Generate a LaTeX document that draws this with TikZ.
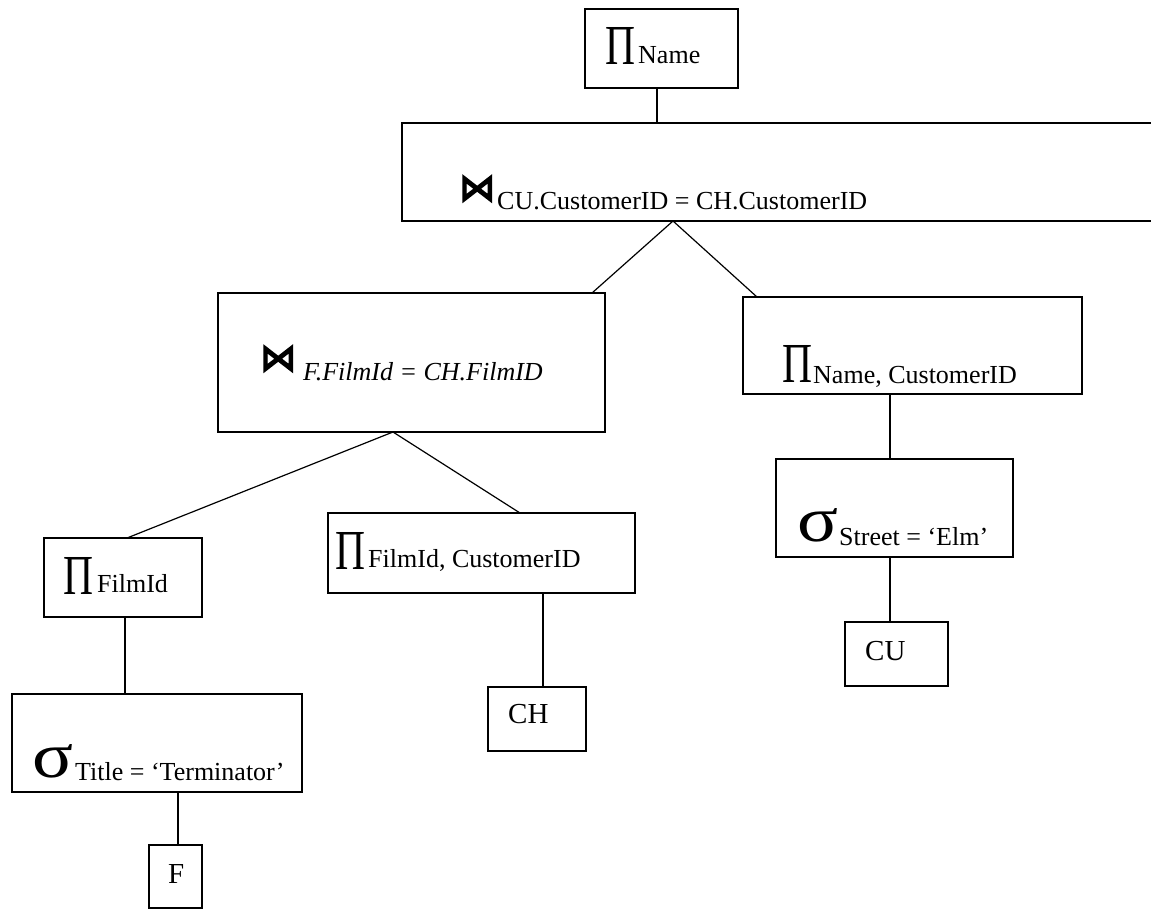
\documentclass[tikz,border=0pt]{standalone}
\usepackage{fontspec}
\setmainfont{Liberation Serif}
\newfontfamily\djv[FakeBold=4]{DejaVu Sans}
\usetikzlibrary{fit}
\tikzset{
  box/.style={draw, line width=1.2pt, inner sep=0pt, outer sep=0pt},
  lbl/.style={anchor=base west, inner sep=0pt, font=\fontsize{26}{30}\selectfont},
  rel/.style={anchor=base west, inner sep=0pt, font=\fontsize{29}{33}\selectfont},
  big/.style={anchor=south west, inner sep=0pt},
  conn/.style={line width=1.2pt},
}
\newcommand\PiSym{\resizebox{30pt}{37pt}{Π}}
\newcommand\SigSym{\resizebox{41pt}{33pt}{σ}}
\newcommand\JoinSym{\resizebox{36pt}{25pt}{\djv ⋈}}
\begin{document}
\begin{tikzpicture}[x=1pt,y=-1pt]
\path[use as bounding box] (0,0) rectangle (1151,910);
% boxes
\coordinate (a1) at (585,9);   \coordinate (c1) at (738,88);
\coordinate (a2) at (402,123); \coordinate (c2) at (1153,221);
\coordinate (a3) at (218,293); \coordinate (c3) at (605,432);
\coordinate (a4) at (743,297); \coordinate (c4) at (1082,394);
\coordinate (a5) at (44,538);  \coordinate (c5) at (202,617);
\coordinate (a6) at (328,513); \coordinate (c6) at (635,593);
\coordinate (a7) at (776,459); \coordinate (c7) at (1013,557);
\coordinate (a8) at (845,622); \coordinate (c8) at (948,686);
\coordinate (a9) at (488,687); \coordinate (c9) at (586,751);
\coordinate (a10) at (12,694); \coordinate (c10) at (302,792);
\coordinate (a11) at (149,845);\coordinate (c11) at (202,908);
\node[box, fit=(a1)(c1)] (b1) {};
\node[box, fit=(a2)(c2)] (b2) {};
\node[box, fit=(a3)(c3)] (b3) {};
\node[box, fit=(a4)(c4)] (b4) {};
\node[box, fit=(a5)(c5)] (b5) {};
\node[box, fit=(a6)(c6)] (b6) {};
\node[box, fit=(a7)(c7)] (b7) {};
\node[box, fit=(a8)(c8)] (b8) {};
\node[box, fit=(a9)(c9)] (b9) {};
\node[box, fit=(a10)(c10)] (b10) {};
\node[box, fit=(a11)(c11)] (b11) {};
% labels
\node[big] (p1) at (605,65) {\PiSym};
\node[lbl] (t1) at (638,63) {Name};
\node[big] (j2) at (459,202) {\JoinSym};
\node[lbl] (t2) at (497,209) {CU.CustomerID = CH.CustomerID};
\node[big] (j3) at (260,372) {\JoinSym};
\node[lbl] (t3) at (303,380) {\itshape F.FilmId = CH.FilmID};
\node[big] (p4) at (782,383) {\PiSym};
\node[lbl] (t4) at (813,383) {Name, CustomerID};
\node[big] (p5) at (63,595) {\PiSym};
\node[lbl] (t5) at (97,592) {FilmId};
\node[big] (p6) at (335,570) {\PiSym};
\node[lbl] (t6) at (368,567) {FilmId, CustomerID};
\node[big] (s7) at (797,542) {\SigSym};
\node[lbl] (t7) at (839,545) {Street = ‘Elm’};
\node[rel] (t8) at (865,660) {CU};
\node[rel] (t9) at (508,723) {CH};
\node[big] (s10) at (32,778) {\SigSym};
\node[lbl] (t10) at (75,780) {Title = ‘Terminator’};
\node[rel] (t11) at (168,883) {F};
% connectors
\draw[conn] ([xshift=72pt]b1.south west) -- ([xshift=72pt]b1.south west |- b2.north);
\draw[conn] ([xshift=271pt]b2.south west) -- ([xshift=374pt]b3.north west);
\draw[conn] ([xshift=271pt]b2.south west) -- ([xshift=14pt]b4.north west);
\draw[conn] ([xshift=175pt]b3.south west) -- ([xshift=83pt]b5.north west);
\draw[conn] ([xshift=175pt]b3.south west) -- ([xshift=192pt]b6.north west);
\draw[conn] ([xshift=147pt]b4.south west) -- ([xshift=147pt]b4.south west |- b7.north);
\draw[conn] ([xshift=114pt]b7.south west) -- ([xshift=114pt]b7.south west |- b8.north);
\draw[conn] ([xshift=81pt]b5.south west) -- ([xshift=81pt]b5.south west |- b10.north);
\draw[conn] ([xshift=215pt]b6.south west) -- ([xshift=215pt]b6.south west |- b9.north);
\draw[conn] ([xshift=166pt]b10.south west) -- ([xshift=166pt]b10.south west |- b11.north);
\end{tikzpicture}
\end{document}
